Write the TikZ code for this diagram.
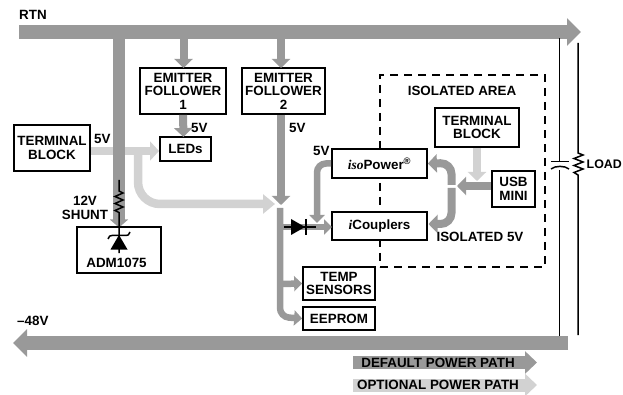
\documentclass[tikz,border=0pt]{standalone}
\usepackage{fontspec}
\setmainfont{Liberation Sans}[BoldFont={Liberation Sans Bold}]
\newfontfamily\serifit{Liberation Serif Italic}
\usetikzlibrary{arrows.meta}
\definecolor{pathdark}{HTML}{999999}
\definecolor{pathlight}{HTML}{D2D2D2}
\tikzset{
  txt/.style={inner sep=0pt,font=\fontsize{13.4}{13.6}\selectfont\bfseries,align=center,text=black},
  blk/.style={txt,draw=black,line width=1.7pt,fill=white,minimum width=#1,anchor=center},
  wire/.style={draw=black,line width=1.5pt},
  bus/.style={draw=pathdark,line width=14pt,-{Triangle[length=14pt,width=27pt]}},
  dark/.style={draw=pathdark,line width=8pt,rounded corners=9pt,-{Triangle[length=9pt,width=18pt]}},
  darkthin/.style={draw=pathdark,line width=6.5pt,rounded corners=9pt,-{Triangle[length=8pt,width=15pt]}},
  light/.style={draw=pathlight,line width=8.5pt,rounded corners=22pt,-{Triangle[length=12pt,width=19pt]}},
}
\begin{document}
\begin{tikzpicture}[x=1pt,y=-1pt]
\useasboundingbox (0,0) rectangle (623,395);
% blocks
\node[blk=76pt,minimum height=46pt] (tb1) at (52,148) {TERMINAL\\BLOCK};
\node[blk=86pt,minimum height=46pt] (ef1) at (183,91) {EMITTER\\FOLLOWER\\1};
\node[blk=83pt,minimum height=46pt] (ef2) at (283.5,91) {EMITTER\\FOLLOWER\\2};
\node[blk=51pt,minimum height=24pt] (led) at (185.5,149) {LEDs};
\coordinate (rtnL) at (19,32);
\coordinate (rtnR) at (581,32);
\coordinate (negR) at (568,343);
\coordinate (negL) at (13,343);
\coordinate (ef1top) at (183.5,32);
\coordinate (ef2top) at (281,32);
\coordinate (shtop) at (119,32);
\coordinate (adm) at (119,227.5);
\coordinate (branch) at (138,148);
\coordinate (junc) at (275,204);
\coordinate (ef2tip) at (281,205);
\coordinate (vtop) at (280,208);
\coordinate (dtip) at (332,227);
\coordinate (dstart) at (280,227);
% optional power paths
\draw[light] (branch) -- (138,204) -- (junc);
\draw[draw=pathlight,line width=8.5pt,-{Triangle[length=9pt,width=19pt]}] (tb1.east |- 0,151) -- (159,151);
% bus bars
\draw[bus] (rtnL) -- (rtnR);
\draw[bus] (negR) -- (negL);
% default paths
\draw[draw=pathdark,line width=12pt,-{Triangle[length=8pt,width=18pt]}] (shtop) -- (adm);
\draw[dark] (ef1top) -- (183.5,68);
\draw[dark] (ef2top) -- (281,68);
\draw[dark] (ef1.south) -- (183.5,137);
\draw[dark] (ef2.south -| ef2tip) -- (ef2tip);
\node[blk=72pt,minimum height=33pt] (temp) at (339,283.5) {TEMP\\SENSORS};
\node[blk=72pt,minimum height=23pt] (eeprom) at (339,318.5) {EEPROM};
\draw[darkthin] (vtop) -- (280,317) -- (eeprom.west);
\draw[darkthin,rounded corners=0pt] (280,284) -- (temp.west);
% isolated area
\node[draw=black,line width=1.5pt,dash pattern=on 8pt off 6pt,minimum width=165pt,minimum height=192pt,inner sep=0pt] (iso) at (462.5,171) {};
\node[txt] (isot) at (462,91) {ISOLATED AREA};
\node[blk=95pt,minimum height=29pt] (pow) at (379.5,163.5) {{\serifit\fontseries{m}iso}Power\textsuperscript{®}};
\node[blk=95pt,minimum height=28pt] (cpl) at (379.5,226) {{\serifit i}Couplers};
\node[blk=84pt,minimum height=39pt] (tb2) at (477,127.5) {TERMINAL\\BLOCK};
\node[blk=43pt,minimum height=36pt] (usb) at (513.5,189) {USB\\MINI};
\draw[darkthin] (dstart) -- (dtip);
\draw[darkthin] (pow.west) -- (317,163.5) -- (317,223);
\coordinate (busmid) at (451.5,186);
\draw[draw=pathlight,line width=8pt,-{Triangle[length=9pt,width=18pt]}] (tb2.south -| 477,0) -- (477,181);
\draw[dark] (usb.west |- busmid) -- (457,186);
\draw[dark,rounded corners=11pt] (451.5,185) -- (451.5,163) -- (pow.east);
\draw[dark,rounded corners=11pt] (451.5,188) -- (451.5,224) -- (428.5,224);
% diode
\coordinate (da) at (284,227);
\coordinate (dk) at (316,227);
\draw[wire] (da) -- (dk);
\fill[black] (291,219) -- (305,227) -- (291,235) -- cycle;
\draw[wire] (306,219) -- (306,235);
% shunt and zener
\coordinate (rtop) at (119,180);
\coordinate (rbot) at (119,253);
\draw[wire,line join=miter] (rtop) -- (119,191) -- (123,193) -- (115,196.5) -- (123,200) -- (115,203.5) -- (123,207) -- (115,210.5) -- (119,212.5) -- (rbot);
\fill[black] (119,235) -- (127.5,249.5) -- (110.5,249.5) -- cycle;
\draw[wire] (108,239) .. controls (109,236) and (110,235.5) .. (112,235.5) -- (126,235.5) .. controls (128,235.5) and (129,235) .. (130,232);
\node[blk=84pt,minimum height=46pt,fill=none] (admb) at (119,250) {};
\node[txt] (admt) at (116.5,263) {ADM1075};
% rails, capacitor, load
\coordinate (c1) at (559.5,38);
\coordinate (c2) at (559.5,336);
\coordinate (l1) at (578,43);
\coordinate (l2) at (578,335);
\draw[wire] (c1) -- (559.5,161.5);
\draw[wire] (559.5,170) -- (c2);
\draw[wire] (551,161.5) -- (569,161.5);
\draw[wire] (551,169) .. controls (555,165.5) and (565,165.5) .. (569,169);
\draw[wire,line join=miter] (l1) -- (578,153) -- (583,155) -- (574,158.5) -- (583,162) -- (574,165.5) -- (583,169) -- (574,172.5) -- (578,175) -- (l2);
% labels
\node[txt,anchor=west] (lrtn) at (19,15) {RTN};
\node[txt,anchor=west] (lneg) at (17,321) {–48V};
\node[txt,anchor=west] (l5a) at (94,139) {5V};
\node[txt,anchor=west] (l5b) at (191,128) {5V};
\node[txt,anchor=west] (l5c) at (289,128) {5V};
\node[txt,anchor=west] (l5d) at (313,151) {5V};
\node[txt] (lsh) at (85,208) {12V\\SHUNT};
\node[txt] (liso) at (480,237) {ISOLATED 5V};
\node[txt,anchor=west,font=\fontsize{12.4}{13.6}\selectfont\bfseries] (lload) at (586.5,164) {LOAD};
% legend
\coordinate (la) at (353,362.5);
\coordinate (lb) at (537,362.5);
\coordinate (lc) at (353,385);
\coordinate (ld) at (537,385);
\draw[draw=pathdark,line width=13pt,-{Triangle[length=12pt,width=22pt]}] (la) -- (lb);
\draw[draw=pathlight,line width=13pt,-{Triangle[length=12pt,width=22pt]}] (lc) -- (ld);
\node[txt] (lg1) at (438,363) {DEFAULT POWER PATH};
\node[txt] (lg2) at (438,385) {OPTIONAL POWER PATH};
\end{tikzpicture}
\end{document}
